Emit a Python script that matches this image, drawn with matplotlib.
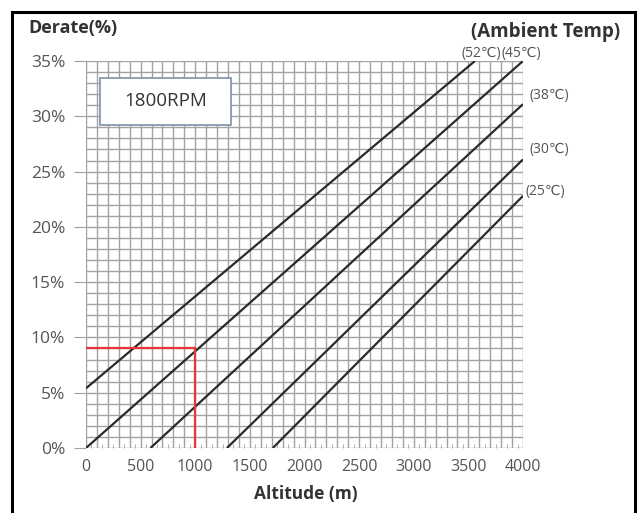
import matplotlib.pyplot as plt
from matplotlib.patches import Rectangle
import numpy as np

plt.rcParams['font.family'] = ['Open Sans', 'DejaVu Sans']

# derate curves: (altitude, derate %) end points
temps = ['(52℃)', '(45℃)', '(38℃)', '(30℃)', '(25℃)']
alt_start = [0, 0, 590, 1290, 1710]
der_start = [5.4, 0.0, 0.0, 0.0, 0.0]
alt_end = [3560, 4000, 4000, 4000, 4000]
der_end = [35.0, 35.0, 31.1, 26.1, 22.8]

# example read-off at 1000 m
ex_alt = [0, 1000, 1000]
ex_der = [9, 9, 0]

xticks = [0, 500, 1000, 1500, 2000, 2500, 3000, 3500, 4000]
yticks = [0, 5, 10, 15, 20, 25, 30, 35]

fig = plt.figure(figsize=(6.4, 5.13), dpi=100)
ax = fig.add_axes([86/640, 1-448/513, (523-86)/640, (448-61)/513])

# grid
for gx in np.arange(0, 4001, 100):
    ax.axvline(gx, color='#a2a2a2', lw=1.0, zorder=1)
for gy in np.arange(0, 36, 1):
    ax.axhline(gy, color='#a2a2a2', lw=1.0, zorder=1)

for i in range(len(temps)):
    ax.plot([alt_start[i], alt_end[i]], [der_start[i], der_end[i]],
            color='#2a2a2a', lw=1.6, zorder=3, solid_capstyle='butt')

ax.plot(ex_alt, ex_der, color='#e8343a', lw=1.6, zorder=4)

ax.set_xlim(0, 4000)
ax.set_ylim(0, 35)
ax.set_xticks(xticks)
ax.set_xticklabels([str(v) for v in xticks])
ax.set_yticks(yticks)
ax.set_yticklabels([f'{v}%' for v in yticks])
ax.set_xticks(np.arange(50, 4000, 100), minor=True)
ax.tick_params(axis='x', which='major', length=0, pad=8, labelsize=11.5, labelcolor='#555555')
ax.tick_params(axis='x', which='minor', direction='in', length=3, color='#a2a2a2')
ax.tick_params(axis='y', which='major', length=9, color='#a2a2a2', pad=6, labelsize=12.5, labelcolor='#555555')
for s in ax.spines.values():
    s.set_visible(False)

# RPM box
ax.add_patch(Rectangle((130, 29.2), 1200, 4.3, facecolor='white', edgecolor='#7f90a8', lw=1.2, zorder=5))
ax.text(730, 31.35, '1800RPM', ha='center', va='center', fontsize=13.5, color='#333333', zorder=6)

# texts in figure pixels
fig.text(28/640, 1-28/513, 'Derate(%)', fontsize=13, fontweight='bold', color='#333333', va='center')
fig.text(546/640, 1-32/513, '(Ambient Temp)', fontsize=13.5, fontweight='bold', color='#333333', va='center', ha='center')
fig.text(306/640, 1-494/513, 'Altitude (m)', fontsize=12.5, fontweight='bold', color='#333333', va='center', ha='center')

lab_xy = [(462, 53), (501, 53), (529, 96), (529, 149), (526, 192)]
for t, (px, py) in zip(temps, lab_xy):
    fig.text(px/640, 1-py/513, t, fontsize=10, color='#555555', va='center', ha='left')

# outer frame
fr = Rectangle((12/640, -0.05), (635-12)/640, 1-12/513+0.05, transform=fig.transFigure,
               fill=False, edgecolor='black', lw=2.2)
fig.patches.append(fr)

fig.savefig('out.png', dpi=100)
